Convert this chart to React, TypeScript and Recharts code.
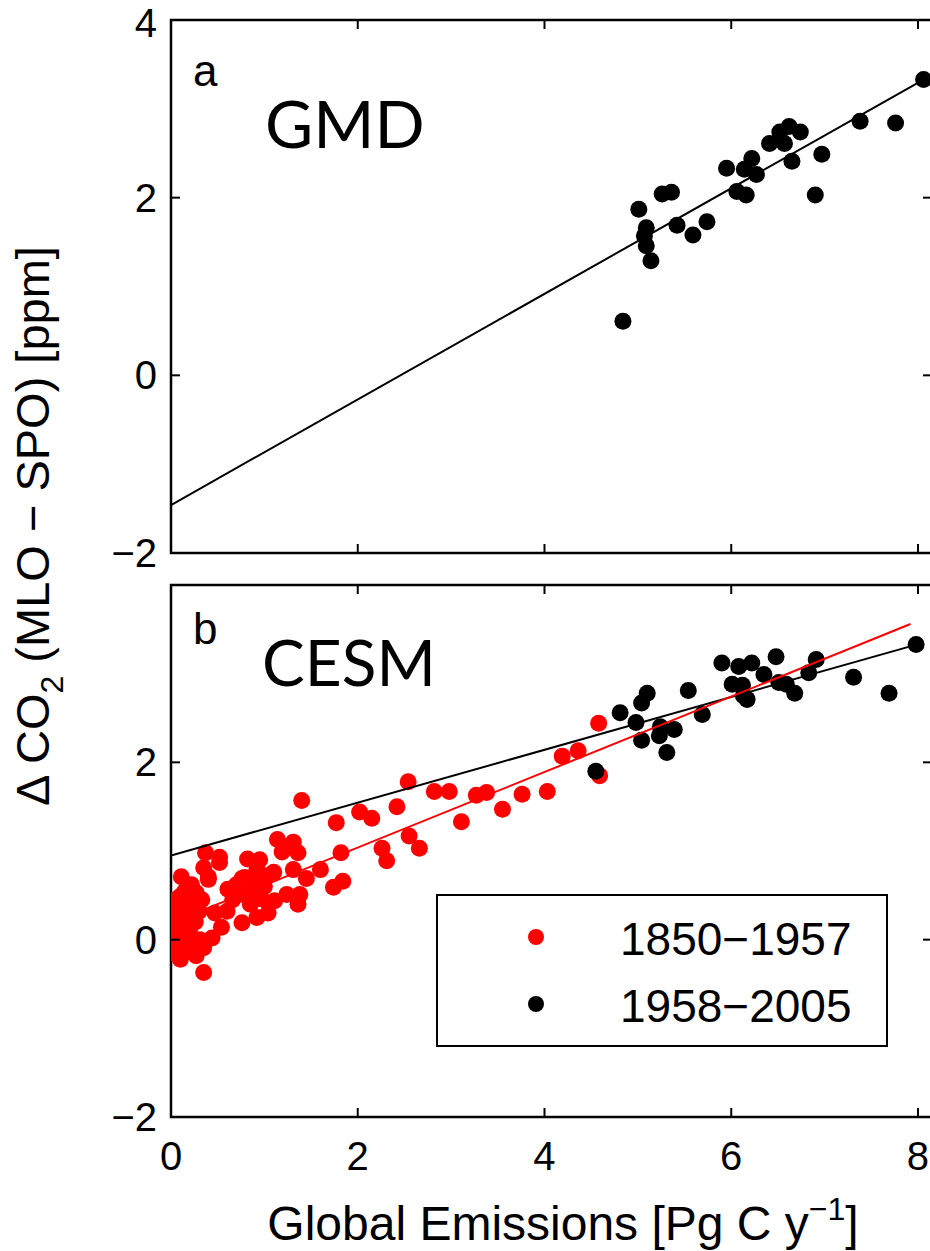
import React from "react";
import { ScatterChart, Scatter, XAxis, YAxis, ReferenceArea } from "recharts";

// panel a: GMD observations [emissions, delta CO2]
const gmdPoints = [
  [8.06, 3.33], [7.38, 2.86], [7.76, 2.84], [6.52, 2.74], [6.62, 2.8], [6.74, 2.74],
  [6.41, 2.61], [6.57, 2.61], [6.97, 2.49], [6.65, 2.41], [5.95, 2.33], [6.22, 2.44],
  [6.14, 2.32], [6.27, 2.26], [6.06, 2.07], [6.16, 2.03], [6.9, 2.03], [5.26, 2.04],
  [5.36, 2.06], [5.01, 1.87], [5.09, 1.66], [5.07, 1.57], [5.09, 1.46], [5.14, 1.29],
  [5.42, 1.69], [5.59, 1.58], [5.74, 1.73], [4.84, 0.61],
];
const gmdFit = [[0, -1.46], [8.06, 3.33]];

// panel b: CESM, 1850-1957
const cesmEarly = [
  [0.02, 0.38], [0.02, 0.15], [0.02, 0.06], [0.03, -0.15], [0.04, 0.25], [0.05, 0.45],
  [0.06, -0.05], [0.08, 0.2], [0.1, 0.49], [0.1, -0.03], [0.1, -0.22], [0.11, 0.71],
  [0.12, 0.3], [0.13, -0.15], [0.14, 0.1], [0.15, 0.55], [0.17, 0.31], [0.18, 0.02],
  [0.2, 0.12], [0.2, 0.4], [0.22, 0.62], [0.24, 0.42], [0.24, -0.07], [0.26, 0.2],
  [0.27, 0.53], [0.27, -0.18], [0.3, 0.32], [0.31, 0.0], [0.33, 0.45], [0.35, 0.81],
  [0.35, -0.09], [0.35, -0.37], [0.37, 0.98], [0.4, 0.71], [0.4, 0.68], [0.44, 0.02],
  [0.47, 0.3], [0.52, 0.93], [0.52, 0.87], [0.54, 0.14], [0.6, 0.32], [0.61, 0.57],
  [0.66, 0.45], [0.7, 0.62], [0.76, 0.19], [0.76, 0.69], [0.77, 0.51], [0.79, 0.7],
  [0.82, 0.91], [0.85, 0.4], [0.88, 0.57], [0.92, 0.79], [0.92, 0.25], [0.95, 0.9],
  [0.95, 0.68], [0.97, 0.46], [1.0, 0.6], [1.02, 0.72], [1.04, 0.3], [1.1, 0.76],
  [1.11, 0.44], [1.14, 1.13], [1.19, 0.99], [1.24, 0.51], [1.31, 1.1], [1.31, 0.79],
  [1.36, 0.98], [1.36, 0.4], [1.38, 0.51], [1.4, 1.57], [1.45, 0.69], [1.6, 0.79],
  [1.74, 0.59], [1.77, 1.32], [1.82, 0.98], [1.84, 0.66], [2.02, 1.44], [2.15, 1.37],
  [2.26, 1.03], [2.31, 0.89], [2.42, 1.5], [2.54, 1.78], [2.55, 1.17], [2.66, 1.03],
  [2.82, 1.67], [2.98, 1.67], [3.11, 1.33], [3.27, 1.63], [3.38, 1.66], [3.55, 1.47],
  [3.76, 1.64], [4.03, 1.67], [4.19, 2.07], [4.36, 2.13], [4.58, 2.44], [4.59, 1.85],
];
const cesmEarlyFit = [[0.03, 0.2], [7.92, 3.56]];

// panel b: CESM, 1958-2005
const cesmLate = [
  [7.98, 3.33], [7.31, 2.96], [7.69, 2.78], [5.9, 3.12], [6.08, 3.08], [6.22, 3.12],
  [6.48, 3.19], [6.91, 3.16], [6.35, 2.99], [6.01, 2.88], [6.12, 2.87], [6.51, 2.9],
  [6.59, 2.88], [6.83, 3.01], [6.68, 2.78], [6.13, 2.75], [6.17, 2.71], [5.54, 2.81],
  [5.69, 2.54], [5.1, 2.78], [5.04, 2.67], [4.81, 2.56], [4.98, 2.45], [5.24, 2.4],
  [5.39, 2.37], [5.04, 2.25], [5.23, 2.3], [5.31, 2.11], [4.55, 1.9],
];
const cesmLateFit = [[0, 0.95], [8.06, 3.35]];

const xTicks = [0, 2, 4, 6, 8];
const yTicksTop = [-2, 0, 2, 4];
const yTicksBottom = [-2, 0, 2];

const legendItems = [
  { label: "1850\u22121957", color: "#ff0000" },
  { label: "1958\u22122005", color: "#000000" },
];

const toRows = (pts: number[][]) => pts.map(([x, y]) => ({ x, y }));

const W = 940;
const PLOT_L = 171;
const PLOT_R = 932;
const TICK = 9;
const tickFont = "'Liberation Sans', Arial, sans-serif";

const fmt = (v: number) => (v < 0 ? "\u2212" + Math.abs(v) : String(v));

function makeXTick(top: number, bottom: number, labels: boolean) {
  return (props: any) => {
    const { x, payload } = props;
    return (
      <g>
        <line x1={x} x2={x} y1={bottom} y2={bottom - TICK} stroke="#000" strokeWidth={2} />
        <line x1={x} x2={x} y1={top} y2={top + TICK} stroke="#000" strokeWidth={2} />
        {labels && (
          <text x={x} y={bottom + 53} textAnchor="middle" fontFamily={tickFont} fontSize={40} fill="#000">
            {fmt(payload.value)}
          </text>
        )}
      </g>
    );
  };
}

const yTick = (props: any) => {
  const { y, payload } = props;
  // the top label sits at the page edge; nudge it down a little
  const dy = payload.value === 4 ? 17 : 14;
  return (
    <g>
      <line x1={PLOT_L} x2={PLOT_L + TICK} y1={y} y2={y} stroke="#000" strokeWidth={2} />
      <line x1={PLOT_R} x2={PLOT_R - TICK} y1={y} y2={y} stroke="#000" strokeWidth={2} />
      <text x={PLOT_L - 14} y={y + dy} textAnchor="end" fontFamily={tickFont} fontSize={40} fill="#000">
        {fmt(payload.value)}
      </text>
    </g>
  );
};

const dot = (color: string) => (props: any) =>
  <circle cx={props.cx} cy={props.cy} r={8.5} fill={color} />;
const noDot = () => <g />;

function Panel({
  height, marginTop, axisHeight, yTicks, labels, children,
}: {
  height: number; marginTop: number; axisHeight: number; yTicks: number[]; labels: boolean; children: React.ReactNode;
}) {
  const top = marginTop;
  const bottom = height - axisHeight;
  return (
    <ScatterChart width={W} height={height} margin={{ top: marginTop, right: W - PLOT_R, bottom: 0, left: 0 }}>
      <XAxis
        type="number"
        dataKey="x"
        domain={[0, 8.15]}
        ticks={xTicks}
        interval={0}
        allowDataOverflow
        height={axisHeight}
        axisLine={false}
        tickLine={false}
        tick={makeXTick(top, bottom, labels)}
      />
      <YAxis
        type="number"
        dataKey="y"
        domain={[-2, 4]}
        ticks={yTicks}
        interval={0}
        allowDataOverflow
        width={PLOT_L}
        axisLine={false}
        tickLine={false}
        tick={yTick}
      />
      <ReferenceArea x1={0} x2={8.15} y1={-2} y2={4} fill="none" stroke="#000" strokeWidth={2.5} />
      {children}
    </ScatterChart>
  );
}

export default function App() {
  return (
    <div style={{ position: "absolute", left: 0, top: 0, width: 930, height: 1251, overflow: "hidden", background: "#fff" }}>
      <div style={{ position: "absolute", left: 0, top: 570 }}>
        <Panel height={681} marginTop={15} axisHeight={134} yTicks={yTicksBottom} labels={true}>
          <Scatter data={toRows(cesmEarly)} shape={dot("#ff0000")} isAnimationActive={false} />
          <Scatter data={toRows(cesmLate)} shape={dot("#000")} isAnimationActive={false} />
          <Scatter data={toRows(cesmLateFit)} line={{ stroke: "#000", strokeWidth: 2 }} shape={noDot} isAnimationActive={false} />
          <Scatter data={toRows(cesmEarlyFit)} line={{ stroke: "#ff0000", strokeWidth: 2 }} shape={noDot} isAnimationActive={false} />
        </Panel>
      </div>
      <div style={{ position: "absolute", left: 0, top: -12 }}>
        <Panel height={594} marginTop={32} axisHeight={29} yTicks={yTicksTop} labels={false}>
          <Scatter data={toRows(gmdFit)} line={{ stroke: "#000", strokeWidth: 2 }} shape={noDot} isAnimationActive={false} />
          <Scatter data={toRows(gmdPoints)} shape={dot("#000")} isAnimationActive={false} />
        </Panel>
      </div>
      <svg width={930} height={1251} style={{ position: "absolute", left: 0, top: 0, pointerEvents: "none" }}>
        <g fontFamily={tickFont} fill="#000">
          <text x={193} y={86} fontSize={44}>a</text>
          <text x={193} y={644} fontSize={44}>b</text>
          <text x={265} y={148} fontSize={66} fontFamily="Lato, sans-serif">GMD</text>
          <text x={262} y={686} fontSize={64} fontFamily="Lato, sans-serif">CESM</text>
          <text transform="translate(49,526) rotate(-90)" textAnchor="middle" fontSize={47}>
            {"\u0394 CO"}
            <tspan fontSize={32} dy={14}>2</tspan>
            <tspan dy={-14}>{" (MLO \u2212 SPO) [ppm]"}</tspan>
          </text>
          <text x={563} y={1240} textAnchor="middle" fontSize={48}>
            {"Global Emissions [Pg C y"}
            <tspan fontSize={32} dy={-20}>{"\u22121"}</tspan>
            <tspan dy={20}>]</tspan>
          </text>
        </g>
        <rect x={437} y={895} width={450} height={151} fill="#fff" stroke="#000" strokeWidth={2} />
        {legendItems.map((item, i) => (
          <g key={item.label}>
            <circle cx={536} cy={937 + i * 67} r={8} fill={item.color} />
            <text x={620} y={955 + i * 67} fontFamily={tickFont} fontSize={46} fill="#000">
              {item.label}
            </text>
          </g>
        ))}
      </svg>
    </div>
  );
}
